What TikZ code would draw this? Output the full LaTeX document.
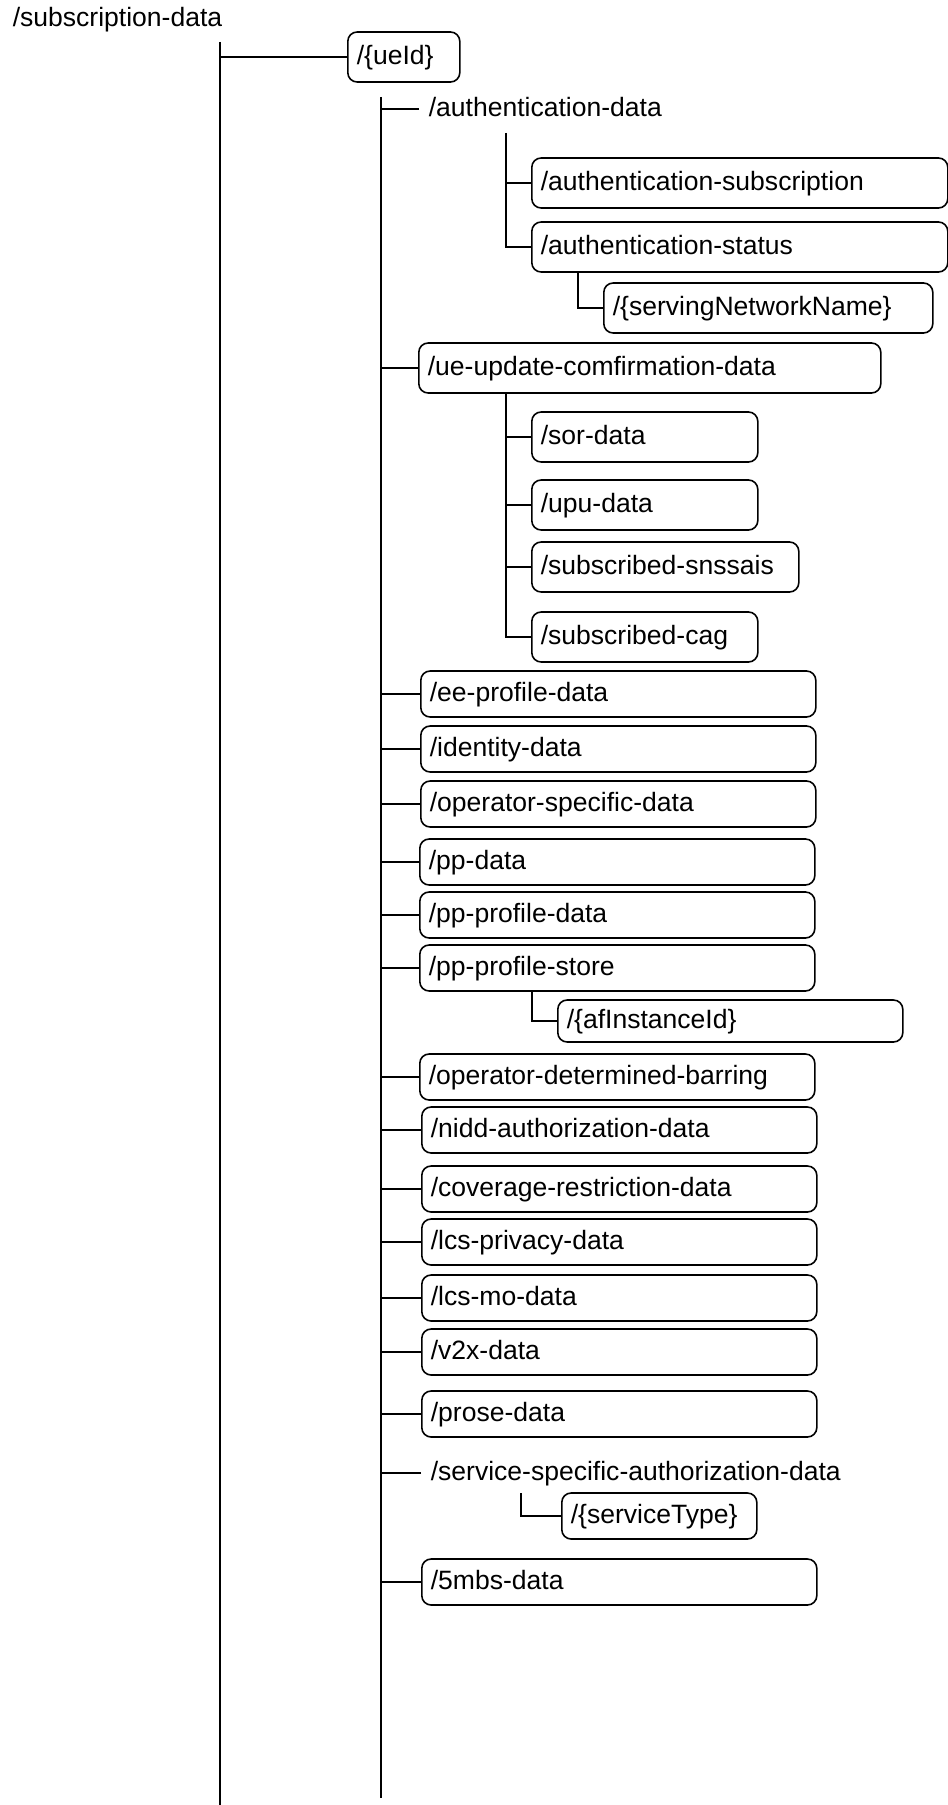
\documentclass[tikz,border=0pt]{standalone}
\usepackage{fontspec}
\setmainfont{Liberation Sans}
\begin{document}
\begin{tikzpicture}[x=0.75pt, y=-0.75pt, line width=1.2pt,
    every node/.style={font=\fontsize{19.9pt}{24pt}\selectfont},
    resbox/.style={draw, rounded corners=7pt, anchor=west, align=left, inner xsep=6.75pt, inner ysep=0pt,
      text height=14.9pt, text depth=4pt, minimum height=34.5pt, text width=#1},
    restext/.style={anchor=west, inner xsep=6.75pt, inner ysep=5.25pt, text height=14.9pt, text depth=4pt}]
          \useasboundingbox (0,0) rectangle (948,1805);
          \node[anchor=base west, inner sep=0pt] (subdata) at (12,27) {/subscription-data};
          \node[resbox=70.5pt, minimum height=37.5pt] (ueid) at (347,57) {/\{ueId\}};
          \node[restext] (authdata) at (419,109) {/authentication-data};
          \node[resbox=298.5pt, minimum height=37.5pt] (authsub) at (531,183) {/authentication-subscription};
          \node[resbox=298.5pt, minimum height=37.5pt] (authstat) at (531,247) {/authentication-status};
          \node[resbox=233.25pt, minimum height=37.5pt] (snname) at (603,308) {/\{servingNetworkName\}};
          \node[resbox=333pt, minimum height=37.5pt] (ueconf) at (418,368) {/ue-update-comfirmation-data};
          \node[resbox=156pt, minimum height=37.5pt] (sor) at (531,437) {/sor-data};
          \node[resbox=156pt, minimum height=37.5pt] (upu) at (531,505) {/upu-data};
          \node[resbox=186.75pt, minimum height=37.5pt] (snssai) at (531,567) {/subscribed-snssais};
          \node[resbox=156pt, minimum height=37.5pt] (cag) at (531,637) {/subscribed-cag};
          \node[resbox=282.75pt] (eeprof) at (420,694) {/ee-profile-data};
          \node[resbox=282.75pt] (ident) at (420,749) {/identity-data};
          \node[resbox=282.75pt] (opspec) at (420,804) {/operator-specific-data};
          \node[resbox=282.75pt] (pp) at (419,862) {/pp-data};
          \node[resbox=282.75pt] (ppprof) at (419,915) {/pp-profile-data};
          \node[resbox=282.75pt] (ppstore) at (419,968) {/pp-profile-store};
          \node[resbox=245.25pt, minimum height=31.5pt] (afinst) at (557,1021) {/\{afInstanceId\}};
          \node[resbox=282.75pt] (odb) at (419,1077) {/operator-determined-barring};
          \node[resbox=282.75pt] (nidd) at (421,1130) {/nidd-authorization-data};
          \node[resbox=282.75pt] (covres) at (421,1189) {/coverage-restriction-data};
          \node[resbox=282.75pt] (lcspriv) at (421,1242) {/lcs-privacy-data};
          \node[resbox=282.75pt] (lcsmo) at (421,1298) {/lcs-mo-data};
          \node[resbox=282.75pt] (vtwox) at (421,1352) {/v2x-data};
          \node[resbox=282.75pt] (prose) at (421,1414) {/prose-data};
          \node[restext] (ssad) at (421,1473) {/service-specific-authorization-data};
          \node[resbox=132.75pt] (stype) at (561,1516) {/\{serviceType\}};
          \node[resbox=282.75pt] (mbs) at (421,1582) {/5mbs-data};
          \coordinate (trunkA) at (220,42);
          \coordinate (trunkAend) at (220,1805);
          \coordinate (trunkB) at (381,97);
          \coordinate (trunkBend) at (381,1798);
          \coordinate (authline) at (506,133);
          \coordinate (statline) at (578,272);
          \coordinate (confline) at (506,393);
          \coordinate (storeline) at (532,991);
          \coordinate (ssadline) at (521,1493);
          \draw (trunkA) -- (trunkAend);
          \draw (ueid.west) -- (ueid.west -| trunkA);
          \draw (trunkB) -- (trunkBend);
          \draw (authdata.west) -- (authdata.west -| trunkB);
          \draw (ueconf.west) -- (ueconf.west -| trunkB);
          \draw (eeprof.west) -- (eeprof.west -| trunkB);
          \draw (ident.west) -- (ident.west -| trunkB);
          \draw (opspec.west) -- (opspec.west -| trunkB);
          \draw (pp.west) -- (pp.west -| trunkB);
          \draw (ppprof.west) -- (ppprof.west -| trunkB);
          \draw (ppstore.west) -- (ppstore.west -| trunkB);
          \draw (odb.west) -- (odb.west -| trunkB);
          \draw (nidd.west) -- (nidd.west -| trunkB);
          \draw (covres.west) -- (covres.west -| trunkB);
          \draw (lcspriv.west) -- (lcspriv.west -| trunkB);
          \draw (lcsmo.west) -- (lcsmo.west -| trunkB);
          \draw (vtwox.west) -- (vtwox.west -| trunkB);
          \draw (prose.west) -- (prose.west -| trunkB);
          \draw (ssad.west) -- (ssad.west -| trunkB);
          \draw (mbs.west) -- (mbs.west -| trunkB);
          \draw (authline) |- (authstat.west);
          \draw (authsub.west) -- (authsub.west -| authline);
          \draw (statline) |- (snname.west);
          \draw (confline) |- (cag.west);
          \draw (sor.west) -- (sor.west -| confline);
          \draw (upu.west) -- (upu.west -| confline);
          \draw (snssai.west) -- (snssai.west -| confline);
          \draw (storeline) |- (afinst.west);
          \draw (ssadline) |- (stype.west);
        \end{tikzpicture}
\end{document}
